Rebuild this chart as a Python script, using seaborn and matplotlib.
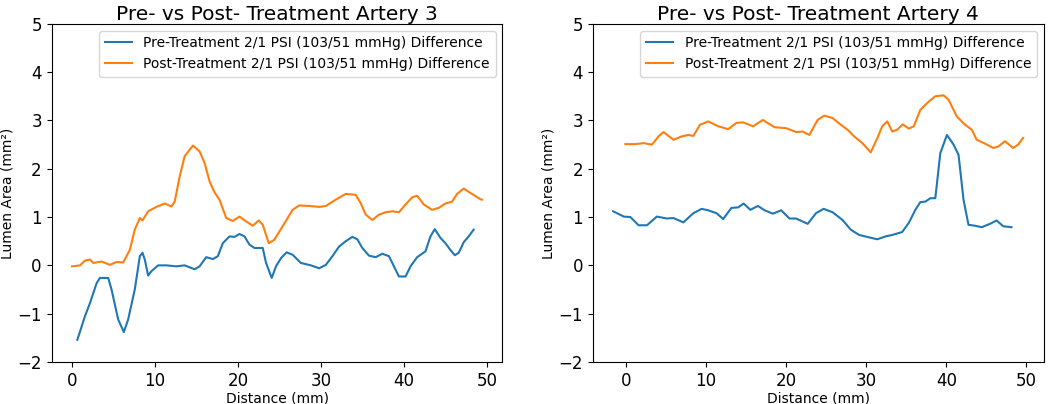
import matplotlib
matplotlib.use("Agg")
import matplotlib.pyplot as plt
import seaborn as sns
import pandas as pd

# Artery 3 - pre-treatment difference
a3_pre_x = [0.64, 1.56, 2.16, 2.96, 3.36, 4.36, 4.76, 5.56, 6.24, 6.76, 7.56, 8.17, 8.49, 8.77,
            9.17, 9.57, 10.37, 11.37, 12.57, 13.57, 14.77, 15.37, 16.17, 16.97, 17.57, 18.17,
            18.98, 19.58, 20.18, 20.78, 21.38, 21.98, 22.98, 23.38, 24.06, 24.58, 25.18, 25.86,
            26.58, 27.58, 28.78, 29.78, 30.58, 31.38, 32.18, 32.98, 33.78, 34.38, 34.98, 35.79,
            36.59, 37.39, 38.19, 38.79, 39.39, 40.19, 40.79, 41.59, 42.59, 43.19, 43.71, 44.39,
            44.99, 45.59, 46.12, 46.6, 47.2, 47.8, 48.4]
a3_pre_y = [-1.54, -1.05, -0.78, -0.37, -0.26, -0.26, -0.5, -1.12, -1.38, -1.12, -0.5, 0.19, 0.26,
            0.12, -0.21, -0.12, 0.0, 0.0, -0.02, 0.0, -0.08, -0.02, 0.17, 0.13, 0.19, 0.46, 0.6,
            0.59, 0.65, 0.6, 0.43, 0.36, 0.36, 0.05, -0.26, -0.02, 0.15, 0.27, 0.22, 0.05, 0.0,
            -0.06, 0.01, 0.19, 0.39, 0.5, 0.59, 0.54, 0.36, 0.2, 0.17, 0.24, 0.19, -0.02, -0.23,
            -0.23, -0.02, 0.17, 0.29, 0.6, 0.75, 0.57, 0.46, 0.32, 0.21, 0.26, 0.48, 0.6, 0.74]

# Artery 3 - post-treatment difference
a3_post_x = [0.0, 0.96, 1.56, 2.16, 2.56, 3.56, 4.56, 5.36, 6.16, 6.96, 7.56, 8.17, 8.49, 9.17,
             10.17, 11.17, 11.97, 12.37, 12.97, 13.57, 14.57, 15.37, 15.97, 16.57, 17.17, 17.77,
             18.58, 19.38, 20.18, 20.98, 21.78, 22.5, 22.98, 23.7, 24.38, 25.38, 26.58, 27.38,
             28.58, 29.78, 30.58, 31.78, 32.98, 34.18, 34.78, 35.39, 36.19, 36.99, 37.79, 38.59,
             39.39, 40.19, 40.99, 41.59, 42.39, 43.39, 44.19, 44.99, 45.8, 46.4, 47.2, 48.0,
             49.2, 49.4]
a3_post_y = [-0.02, 0.0, 0.1, 0.12, 0.05, 0.08, 0.01, 0.07, 0.06, 0.32, 0.74, 0.98, 0.93, 1.12,
             1.21, 1.28, 1.22, 1.32, 1.84, 2.26, 2.48, 2.36, 2.12, 1.74, 1.51, 1.36, 0.98, 0.92,
             1.01, 0.91, 0.82, 0.93, 0.84, 0.46, 0.53, 0.81, 1.15, 1.24, 1.23, 1.21, 1.23, 1.36,
             1.48, 1.46, 1.29, 1.05, 0.94, 1.05, 1.1, 1.12, 1.1, 1.26, 1.41, 1.44, 1.26, 1.15,
             1.19, 1.28, 1.32, 1.48, 1.59, 1.5, 1.37, 1.36]

# Artery 4 - pre-treatment difference
a4_pre_x = [-1.61, -0.29, 0.54, 1.57, 2.61, 3.85, 5.09, 5.92, 7.16, 8.4, 9.44, 10.26, 11.3, 12.13,
            13.16, 13.99, 14.69, 15.52, 16.47, 17.3, 18.34, 19.37, 20.41, 21.23, 22.68, 23.72,
            24.67, 25.79, 27.03, 28.06, 29.1, 30.34, 31.37, 32.41, 33.24, 34.48, 35.31, 36.13,
            36.75, 37.38, 38.0, 38.62, 39.24, 40.07, 40.9, 41.52, 42.14, 42.76, 43.59, 44.42,
            45.45, 46.27, 47.1, 48.13]
a4_pre_y = [1.12, 1.01, 1.0, 0.83, 0.83, 1.01, 0.97, 0.98, 0.89, 1.08, 1.17, 1.14, 1.08, 0.96,
            1.19, 1.2, 1.28, 1.15, 1.23, 1.14, 1.07, 1.14, 0.97, 0.97, 0.86, 1.08, 1.17, 1.1,
            0.94, 0.74, 0.63, 0.58, 0.54, 0.6, 0.63, 0.69, 0.88, 1.15, 1.31, 1.32, 1.39, 1.39,
            2.32, 2.7, 2.5, 2.29, 1.36, 0.84, 0.82, 0.79, 0.86, 0.93, 0.81, 0.79]

# Artery 4 - post-treatment difference
a4_post_x = [-0.08, 1.16, 2.19, 3.23, 4.06, 4.68, 5.92, 6.95, 7.78, 8.4, 9.23, 10.26, 11.51,
             12.75, 13.78, 14.61, 15.85, 17.09, 18.54, 19.99, 21.23, 22.06, 22.89, 23.92, 24.75,
             25.79, 26.82, 27.65, 28.48, 29.51, 30.55, 31.37, 31.99, 32.62, 33.24, 33.86, 34.56,
             35.31, 35.93, 36.75, 37.79, 38.62, 39.65, 40.27, 41.31, 42.34, 43.17, 43.79, 44.83,
             45.86, 46.48, 47.31, 48.34, 48.96, 49.58]
a4_post_y = [2.51, 2.51, 2.53, 2.5, 2.67, 2.76, 2.6, 2.67, 2.7, 2.68, 2.91, 2.98, 2.88, 2.82,
             2.95, 2.96, 2.88, 3.01, 2.86, 2.84, 2.76, 2.77, 2.7, 3.01, 3.1, 3.05, 2.91, 2.81,
             2.67, 2.53, 2.34, 2.63, 2.88, 2.98, 2.77, 2.81, 2.92, 2.83, 2.88, 3.22, 3.39, 3.5,
             3.52, 3.43, 3.08, 2.91, 2.81, 2.6, 2.52, 2.43, 2.46, 2.57, 2.43, 2.5, 2.64]

pre_label = "Pre-Treatment 2/1 PSI (103/51 mmHg) Difference"
post_label = "Post-Treatment 2/1 PSI (103/51 mmHg) Difference"

panels = [
    ("Pre- vs Post- Treatment Artery 3", a3_pre_x, a3_pre_y, a3_post_x, a3_post_y),
    ("Pre- vs Post- Treatment Artery 4", a4_pre_x, a4_pre_y, a4_post_x, a4_post_y),
]

fig, axs = plt.subplots(1, 2, figsize=(10.52, 4.04), dpi=100)
fig.subplots_adjust(left=0.049, right=0.992, top=0.941, bottom=0.104, wspace=0.2)

for ax, (title, px, py, qx, qy) in zip(axs, panels):
    pre = pd.DataFrame({"x": px, "y": py})
    post = pd.DataFrame({"x": qx, "y": qy})
    sns.lineplot(data=pre, x="x", y="y", ax=ax, color="#1f77b4", linewidth=1.5, label=pre_label)
    sns.lineplot(data=post, x="x", y="y", ax=ax, color="#ff7f0e", linewidth=1.5, label=post_label)
    ax.set_ylim(-2, 5)
    ax.set_xticks([0, 10, 20, 30, 40, 50])
    ax.set_title(title, fontsize=14.5, pad=3)
    ax.set_xlabel("Distance (mm)", fontsize=10, labelpad=1)
    ax.set_ylabel("Lumen Area (mm²)", fontsize=10, labelpad=2)
    ax.tick_params(labelsize=12)
    ax.legend(loc="upper right", fontsize=10)

fig.savefig("out.png", dpi=100)
